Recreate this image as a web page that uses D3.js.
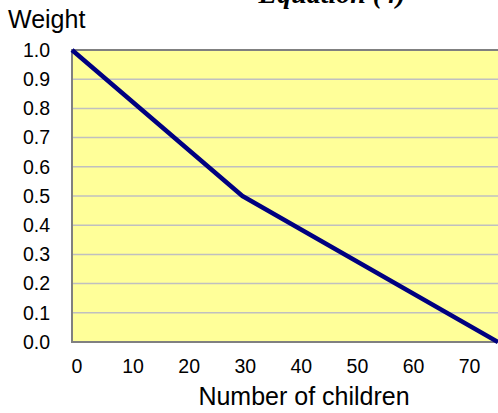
<!DOCTYPE html>
<html>
<head>
<meta charset="utf-8">
<script src="https://cdn.jsdelivr.net/npm/d3@7"></script>
<style>
  body { margin: 0; background: #fff; }
  svg { display: block; font-family: 'Liberation Sans', Arial, sans-serif; }
</style>
</head>
<body>
<div class="wrapper"></div>
<script>
// values
const children = [0, 30, 75]
const weight = [1.0, 0.5, 0.0]
const xTicks = [0, 10, 20, 30, 40, 50, 60, 70]
const yTicks = [0.0, 0.1, 0.2, 0.3, 0.4, 0.5, 0.6, 0.7, 0.8, 0.9, 1.0]

const width = 498,
  height = 413
const plot = { left: 72, top: 50, right: 500, bottom: 342 }

const svg = d3.select('.wrapper')
  .append('svg')
  .attr('width', width)
  .attr('height', height)

const x = d3.scaleLinear().domain([0, 75]).range([plot.left, 498])
const y = d3.scaleLinear().domain([0, 1]).range([plot.bottom, plot.top])

// plot area
svg.append('rect')
  .attr('x', plot.left)
  .attr('y', plot.top)
  .attr('width', plot.right - plot.left)
  .attr('height', plot.bottom - plot.top)
  .attr('fill', '#ffff99')
  .attr('stroke', '#808080')
  .attr('stroke-width', 2)

// gridlines
svg.append('g')
  .selectAll('line')
  .data(yTicks.slice(1, -1))
  .join('line')
  .attr('x1', plot.left + 1)
  .attr('x2', plot.right)
  .attr('y1', d => y(d))
  .attr('y2', d => y(d))
  .attr('stroke', '#c0c0c0')
  .attr('stroke-width', 1.5)

// y tick labels
svg.append('g')
  .selectAll('text')
  .data(yTicks)
  .join('text')
  .attr('x', 50)
  .attr('y', d => y(d))
  .attr('dy', '0.35em')
  .attr('text-anchor', 'end')
  .attr('font-size', 19.5)
  .text(d => d.toFixed(1))

// x tick labels
svg.append('g')
  .selectAll('text')
  .data(xTicks)
  .join('text')
  .attr('x', d => x(d) + 5 - d / 14)
  .attr('y', 373)
  .attr('text-anchor', 'middle')
  .attr('font-size', 19.5)
  .text(d => d)

// the line
const pts = children.map((c, i) => [c, weight[i]])
svg.append('path')
  .datum(pts)
  .attr('fill', 'none')
  .attr('stroke', '#000080')
  .attr('stroke-width', 4.5)
  .attr('stroke-linejoin', 'round')
  .attr('d', d3.line().x(d => x(d[0])).y(d => y(d[1])))

// titles
svg.append('text')
  .attr('x', 8)
  .attr('y', 28)
  .attr('font-size', 25)
  .text('Weight')

svg.append('text')
  .attr('x', 304)
  .attr('y', 405)
  .attr('text-anchor', 'middle')
  .attr('font-size', 25)
  .text('Number of children')

svg.append('text')
  .attr('x', 332)
  .attr('y', 3)
  .attr('text-anchor', 'middle')
  .attr('font-family', "'Liberation Serif', 'Times New Roman', serif")
  .attr('font-weight', 'bold')
  .attr('font-style', 'italic')
  .attr('font-size', 28)
  .text('Equation (4)')
</script>
</body>
</html>
